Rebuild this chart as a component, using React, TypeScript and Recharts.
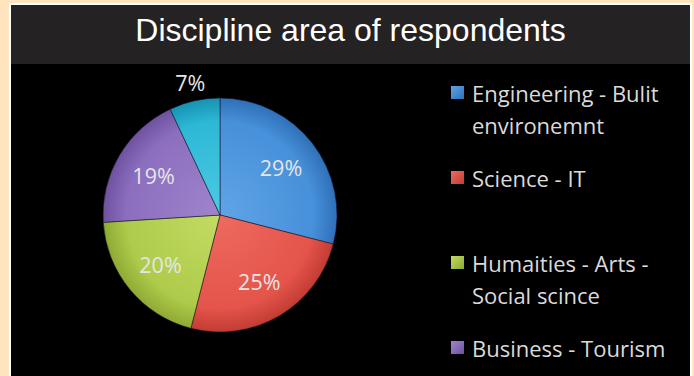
import React from 'react';
import { PieChart, Pie, Cell, Legend } from 'recharts';

const categories = [
  'Engineering - Bulit environemnt',
  'Science - IT',
  'Humaities - Arts - Social scince',
  'Business - Tourism',
  'Other',
];
const shares = [29, 25, 20, 19, 7];
const colors = ['#4790DA', '#E4544A', '#AECB4B', '#8C6EBE', '#2DB8D6'];
const lightColors = ['#5FA4E6', '#EE6A60', '#C2DC62', '#9F84CC', '#4CCAE4'];
const darkColors = ['#2F70B8', '#C23C34', '#8EAA34', '#6E52A0', '#1792B2'];
const legendCount = 4;

const data = categories.map((name, i) => ({ name, value: shares[i] }));

const CX = 209;
const CY = 151;
const R = 117;
const RAD = Math.PI / 180;
const FONT = "'Open Sans', Lato, sans-serif";

const renderLabel = (props: any) => {
  const { cx, cy, midAngle, outerRadius, percent, value } = props;
  const r = percent < 0.1 ? outerRadius + 19 : outerRadius * 0.66;
  const x = cx + r * Math.cos(-midAngle * RAD);
  const y = cy + r * Math.sin(-midAngle * RAD);
  return (
    <text
      x={x}
      y={y}
      fill="#E6E6E6"
      textAnchor="middle"
      dominantBaseline="central"
      fontFamily={FONT}
      fontSize={21.5}
    >
      {`${value}%`}
    </text>
  );
};

const renderLegend = () => (
  <div style={{ fontFamily: FONT }}>
    {categories.slice(0, legendCount).map((name, i) => (
      <div key={name} style={{ position: 'relative', height: 85, width: 235 }}>
        <div
          style={{
            position: 'absolute',
            left: 1,
            top: 1,
            width: 13,
            height: 13,
            background: `linear-gradient(135deg, ${lightColors[i]}, ${darkColors[i]})`,
          }}
        />
        <div
          style={{
            position: 'absolute',
            left: 22,
            top: -8,
            width: 212,
            color: '#DADADA',
            fontSize: 22,
            lineHeight: '32px',
          }}
        >
          {name}
        </div>
      </div>
    ))}
  </div>
);

export default function App() {
  return (
    <div
      style={{
        position: 'absolute',
        left: 0,
        top: 0,
        width: 694,
        height: 376,
        background: '#FFE4BE',
        overflow: 'hidden',
      }}
    >
      <div
        style={{
          position: 'absolute',
          left: 9,
          top: 3,
          width: 683,
          height: 380,
          background: '#FFFFFF',
        }}
      />
      <div
        style={{
          position: 'absolute',
          left: 11,
          top: 5,
          width: 679,
          height: 59,
          background: '#242222',
          color: '#FFFFFF',
          fontFamily: "'Liberation Sans', Arial, sans-serif",
          fontSize: 32,
          lineHeight: '50px',
          textAlign: 'center',
        }}
      >
        Discipline area of respondents
      </div>
      <div
        style={{
          position: 'absolute',
          left: 11,
          top: 64,
          width: 679,
          height: 312,
          background: '#000000',
        }}
      >
        <PieChart width={679} height={312} margin={{ top: 0, right: 0, bottom: 0, left: 0 }}>
          <defs>
            {colors.map((c, i) => (
              <radialGradient
                key={c}
                id={`grad${i}`}
                gradientUnits="userSpaceOnUse"
                cx={CX}
                cy={CY}
                r={R}
              >
                <stop offset="0%" stopColor={lightColors[i]} />
                <stop offset="80%" stopColor={c} />
                <stop offset="100%" stopColor={darkColors[i]} />
              </radialGradient>
            ))}
          </defs>
          <Pie
            data={data}
            dataKey="value"
            nameKey="name"
            cx={CX}
            cy={CY}
            outerRadius={R}
            startAngle={90}
            endAngle={-270}
            stroke="rgba(20,20,40,0.55)"
            strokeWidth={1}
            label={renderLabel}
            labelLine={false}
            isAnimationActive={false}
          >
            {data.map((d, i) => (
              <Cell key={d.name} fill={`url(#grad${i})`} />
            ))}
          </Pie>
          <Legend
            content={renderLegend}
            layout="vertical"
            wrapperStyle={{ position: 'absolute', left: 439, top: 21, width: 240 }}
          />
        </PieChart>
      </div>
    </div>
  );
}
